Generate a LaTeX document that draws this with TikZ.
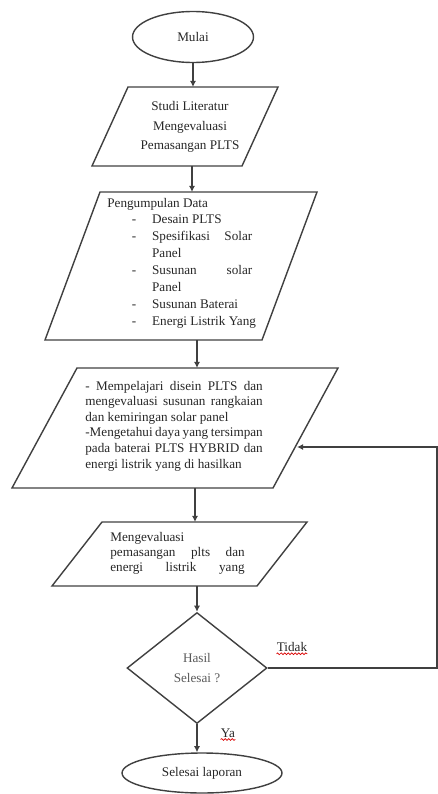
\documentclass[tikz,border=0pt]{standalone}
\usepackage{fontspec}
\setmainfont{Liberation Serif}
\usetikzlibrary{shapes.geometric,arrows.meta,decorations.pathmorphing}

\tikzset{
  garis/.style={draw=black!75, line width=0.8pt},
  panah/.style={garis, -{Latex[length=3.5pt,width=3.5pt]}},
  teks/.style={font=\fontsize{7.5}{8.8}\selectfont, text=black!85, inner sep=0pt},
  terminal/.style={garis, ellipse, teks},
  keputusan/.style={garis, diamond, teks, align=center, text=black!65,
    font=\fontsize{7.5}{11.3}\selectfont, minimum width=2.8cm, minimum height=2.22cm},
  coretan/.style={draw=red!85!black, line width=0.4pt, decorate,
    decoration={snake, segment length=2pt, amplitude=0.5pt}}
}
\newcommand{\butir}[1]{\hspace*{14pt}\makebox[11.5pt][l]{-}#1}
\newcommand{\lanjut}[1]{\hspace*{25.5pt}#1}
\newcommand{\rata}[2][101pt]{\makebox[#1][s]{#2}}

\begin{document}
\begin{tikzpicture}[x=0.02cm, y=-0.02cm]
\useasboundingbox (0,0) rectangle (438,794);

% mulai
\node[terminal, minimum width=2.42cm, minimum height=1.02cm] (mulai) at (193,37) {Mulai};

% studi literatur
\draw[garis] (128,87) -- (278,87) -- (242,166) -- (92,166) -- cycle;
\coordinate (studiN) at (193,87);
\coordinate (studiS) at (192,166);
\node[teks, align=center, font=\fontsize{7.5}{11}\selectfont] (studi) at (190,127)
  {Studi Literatur\\Mengevaluasi\\Pemasangan PLTS};

% pengumpulan data
\draw[garis] (100,192) -- (317,192) -- (262,340) -- (45,340) -- cycle;
\coordinate (dataN) at (192,192);
\coordinate (dataS) at (197,340);
\node[teks, align=left, anchor=west, font=\fontsize{7.5}{9.6}\selectfont] (data) at (107,263)
  {Pengumpulan Data\\
   \butir{Desain PLTS}\\
   \butir{\rata[57pt]{Spesifikasi Solar}}\\
   \lanjut{Panel}\\
   \butir{\rata[57pt]{Susunan solar}}\\
   \lanjut{Panel}\\
   \butir{Susunan Baterai}\\
   \butir{Energi Listrik Yang}};

% kajian
\draw[garis] (77,368) -- (338,368) -- (273,488) -- (12,488) -- cycle;
\coordinate (kajiN) at (197,368);
\coordinate (kajiS) at (195,488);
\coordinate (kajiE) at (297,447);
\node[teks, align=left, anchor=west, font=\fontsize{7.5}{8.85}\selectfont] (kaji) at (85,426)
  {\rata{- Mempelajari disein PLTS dan}\\
   \rata{mengevaluasi susunan rangkaian}\\
   dan kemiringan solar panel\\
   \rata{-Mengetahui daya yang tersimpan}\\
   \rata{pada baterai PLTS HYBRID dan}\\
   energi listrik yang di hasilkan};

% evaluasi
\draw[garis] (102,522) -- (307,522) -- (257,586) -- (52,586) -- cycle;
\coordinate (evalN) at (195,522);
\coordinate (evalS) at (197,586);
\node[teks, align=left, anchor=west, font=\fontsize{7.5}{8.5}\selectfont] (eval) at (110,553)
  {Mengevaluasi\\
   \rata[76.5pt]{pemasangan plts dan}\\
   \rata[76.5pt]{energi listrik yang}};

% keputusan dan selesai
\node[keputusan] (hasil) at (197,668) {Hasil\\Selesai ?};
\node[terminal, minimum width=3.2cm, minimum height=0.8cm] (selesai) at (202,773) {Selesai laporan};
\coordinate (balik) at (437,447);

\draw[panah] (mulai.south) -- (studiN);
\draw[panah] (studiS) -- (dataN);
\draw[panah] (dataS) -- (kajiN);
\draw[panah] (kajiS) -- (evalN);
\draw[panah] (evalS) -- (hasil.north);
\draw[panah] (hasil.south) -- (hasil.south |- selesai.north);
\draw[panah] (hasil.east) -| (balik) -- (kajiE);

\node[teks] (tidak) at (292,647) {Tidak};
\draw[coretan] ([yshift=-1pt]tidak.south west) -- ([yshift=-1pt]tidak.south east);
\node[teks] (ya) at (228,733) {Ya};
\draw[coretan] ([yshift=-1pt]ya.south west) -- ([yshift=-1pt]ya.south east);
\end{tikzpicture}
\end{document}
